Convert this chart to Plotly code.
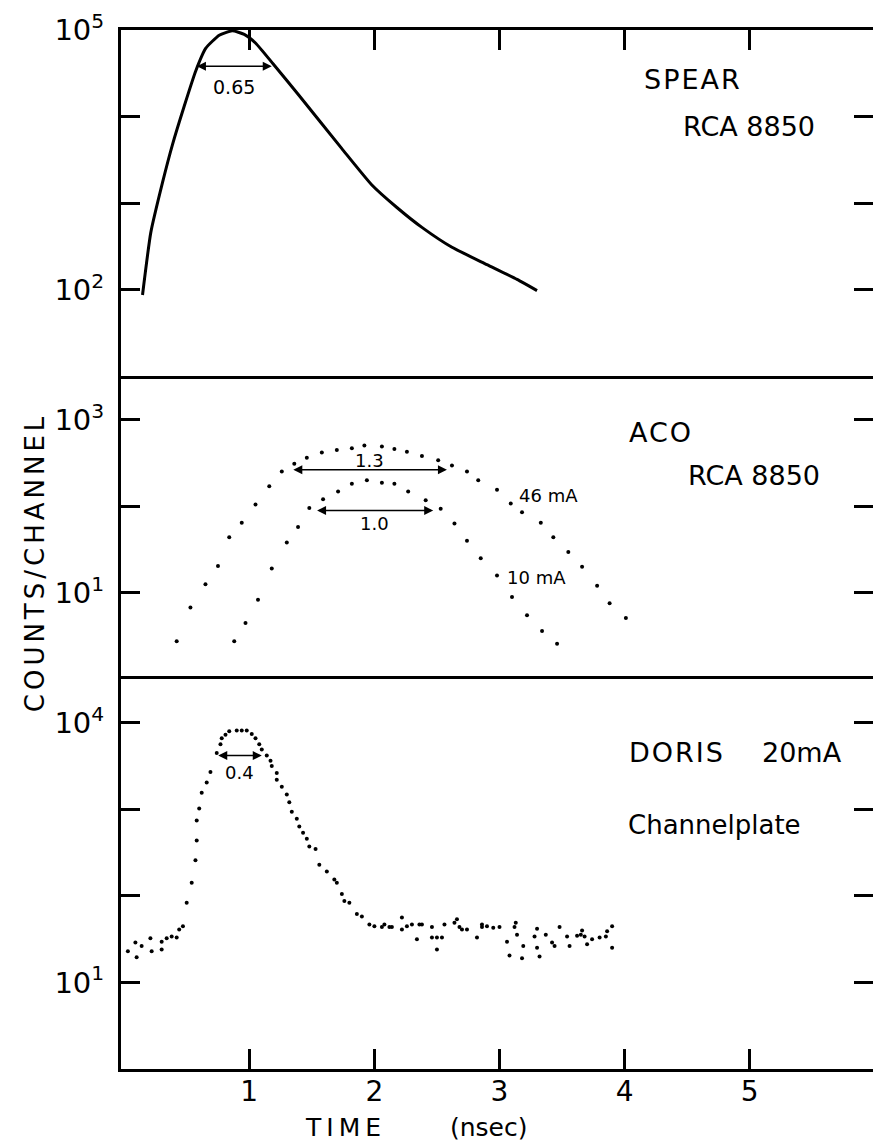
import numpy as np
import plotly.graph_objects as go

# ---------------- data ----------------
# SPEAR, RCA 8850 : solid curve, log10(counts/channel)
spear_time = [0.147, 0.213, 0.307, 0.387, 0.48, 0.573, 0.653, 0.76, 0.864, 0.96, 1.05, 1.19,
              1.40, 1.74, 1.98, 2.18, 2.38, 2.62, 2.90, 3.14, 3.30]
spear_log10 = [1.94, 2.66, 3.24, 3.68, 4.12, 4.53, 4.79, 4.94, 4.99, 4.95, 4.85, 4.61, 4.24,
               3.63, 3.21, 2.95, 2.72, 2.49, 2.29, 2.12, 1.99]

# ACO, RCA 8850 : two dotted series
aco46_time = [0.42, 0.53, 0.65, 0.75, 0.84, 0.94, 1.05, 1.16, 1.26, 1.36, 1.46, 1.58, 1.70,
              1.82, 1.92, 2.06, 2.16, 2.26, 2.38, 2.51, 2.62, 2.74, 2.83, 2.98, 3.09, 3.18,
              3.33, 3.43, 3.55, 3.66, 3.78, 3.88, 4.01]
aco46_log10 = [0.44, 0.83, 1.10, 1.31, 1.64, 1.81, 2.02, 2.23, 2.40, 2.49, 2.56, 2.62, 2.65,
               2.67, 2.70, 2.69, 2.66, 2.63, 2.58, 2.53, 2.47, 2.40, 2.30, 2.19, 2.03, 1.93,
               1.81, 1.64, 1.47, 1.30, 1.08, 0.88, 0.71]
aco10_time = [0.88, 0.97, 1.07, 1.18, 1.30, 1.39, 1.48, 1.59, 1.71, 1.82, 1.94, 2.06, 2.16,
              2.27, 2.41, 2.53, 2.64, 2.74, 2.85, 2.98, 3.10, 3.22, 3.34, 3.46]
aco10_log10 = [0.44, 0.65, 0.92, 1.28, 1.58, 1.76, 1.98, 2.08, 2.17, 2.26, 2.30, 2.27, 2.26,
               2.17, 2.07, 1.97, 1.80, 1.60, 1.40, 1.20, 0.95, 0.74, 0.56, 0.41]

# DORIS 20 mA, Channelplate : dotted series
doris_time = [0.03, 0.09, 0.10, 0.14, 0.21, 0.22, 0.30, 0.30, 0.34, 0.38, 0.42, 0.44, 0.47,
              0.50, 0.54, 0.57, 0.58, 0.58, 0.60, 0.62, 0.66, 0.69, 0.74, 0.77, 0.78, 0.81,
              0.84, 0.90, 0.94, 0.98, 1.02, 1.05, 1.08, 1.10, 1.14, 1.17, 1.18, 1.22, 1.22,
              1.26, 1.30, 1.32, 1.34, 1.38, 1.40, 1.43, 1.46, 1.48, 1.53, 1.56, 1.62, 1.68,
              1.70, 1.74, 1.76, 1.80, 1.86, 1.90, 1.96, 2.00, 2.06, 2.08, 2.12, 2.14, 2.22,
              2.22, 2.26, 2.30, 2.34, 2.38, 2.46, 2.46, 2.50, 2.54, 2.56, 2.64, 2.68, 2.74,
              2.82, 2.86, 2.90, 3.00, 3.06, 3.08, 3.12, 3.18, 3.19, 3.30, 3.30, 3.32, 3.42,
              3.44, 3.48, 3.54, 3.56, 3.62, 3.66, 3.70, 3.74, 3.80, 3.85, 3.86, 3.90, 3.90,
              2.36, 2.50, 2.66, 2.70, 2.86, 2.95, 3.13, 3.14, 3.28, 3.37, 3.65, 3.68]
doris_log10 = [1.36, 1.46, 1.29, 1.42, 1.51, 1.36, 1.38, 1.47, 1.51, 1.53, 1.52, 1.61, 1.65,
               1.92, 2.15, 2.41, 2.64, 2.87, 3.01, 3.19, 3.31, 3.43, 3.65, 3.75, 3.82, 3.86,
               3.90, 3.91, 3.91, 3.91, 3.87, 3.82, 3.75, 3.69, 3.62, 3.56, 3.50, 3.42, 3.34,
               3.26, 3.17, 3.08, 2.97, 2.89, 2.80, 2.73, 2.66, 2.57, 2.54, 2.36, 2.28, 2.19,
               2.15, 2.02, 1.94, 1.92, 1.79, 1.76, 1.67, 1.65, 1.64, 1.67, 1.64, 1.64, 1.75,
               1.61, 1.65, 1.67, 1.50, 1.67, 1.64, 1.52, 1.38, 1.52, 1.67, 1.69, 1.64, 1.61,
               1.52, 1.64, 1.65, 1.64, 1.47, 1.31, 1.64, 1.28, 1.42, 1.62, 1.40, 1.30, 1.46,
               1.42, 1.64, 1.53, 1.42, 1.54, 1.60, 1.44, 1.50, 1.52, 1.53, 1.59, 1.40, 1.65,
               1.67, 1.52, 1.73, 1.61, 1.67, 1.63, 1.69, 1.55, 1.53, 1.55, 1.55, 1.53]

# FWHM markers: (start time, end time, log10 level, label)
spear_fwhm = [0.57, 1.18, 4.58, "0.65"]
aco46_fwhm = [1.34, 2.58, 2.42, "1.3"]
aco10_fwhm = [1.53, 2.47, 1.95, "1.0"]
doris_fwhm = [0.74, 1.10, 3.62, "0.4"]

x_ticks = [1, 2, 3, 4, 5]
x_ticktext = ["1", "2", "3", "4", "5"]
spear_yticks = [1e2, 1e3, 1e4, 1e5]
spear_yticktext = ["10<sup>2</sup>", "", "", "10<sup>5</sup>"]
aco_yticks = [1e1, 1e2, 1e3]
aco_yticktext = ["10<sup>1</sup>", "", "10<sup>3</sup>"]
doris_yticks = [1e1, 1e2, 1e3, 1e4]
doris_yticktext = ["10<sup>1</sup>", "", "", "10<sup>4</sup>"]

# ---------------- figure ----------------
FONT = "DejaVu Sans"
BLACK = "#000000"


def ls(text, px):
    return f'<span style="letter-spacing:{px}px">{text}</span>'


fig = go.Figure()

fig.add_trace(go.Scatter(x=spear_time, y=np.power(10.0, spear_log10), mode="lines",
                         line=dict(color=BLACK, width=3, shape="spline", smoothing=0.5),
                         xaxis="x3", yaxis="y3", hoverinfo="skip", showlegend=False))
fig.add_trace(go.Scatter(x=aco46_time, y=np.power(10.0, aco46_log10), mode="markers",
                         marker=dict(color=BLACK, size=4), xaxis="x2", yaxis="y2",
                         showlegend=False))
fig.add_trace(go.Scatter(x=aco10_time, y=np.power(10.0, aco10_log10), mode="markers",
                         marker=dict(color=BLACK, size=4), xaxis="x2", yaxis="y2",
                         showlegend=False))
fig.add_trace(go.Scatter(x=doris_time, y=np.power(10.0, doris_log10), mode="markers",
                         marker=dict(color=BLACK, size=4), xaxis="x", yaxis="y",
                         showlegend=False))
# empty traces so the right-hand tick axes are drawn
for xa, ya in (("x", "y4"), ("x2", "y5"), ("x3", "y6")):
    fig.add_trace(go.Scatter(x=[None], y=[None], xaxis=xa, yaxis=ya, showlegend=False,
                             hoverinfo="skip"))

XR = [-0.025, 5.985]
common_x = dict(range=XR, showgrid=False, zeroline=False, linewidth=3, linecolor=BLACK,
                automargin=False)
common_y = dict(type="log", showgrid=False, zeroline=False, showline=True, linewidth=3,
                linecolor=BLACK, mirror=False, ticks="inside", ticklen=19, tickwidth=3,
                tickcolor=BLACK, automargin=False,
                tickfont=dict(size=29, color=BLACK, family=FONT), ticklabelstandoff=8)
right_y = dict(type="log", side="right", showgrid=False, zeroline=False, showline=False,
               ticks="inside", ticklen=19, tickwidth=3, tickcolor=BLACK,
               showticklabels=False, automargin=False)

d3 = 4.5 / 12
d2 = 8.0 / 12

fig.update_layout(
    width=873, height=1145,
    margin=dict(l=121, r=0, t=30, b=76, autoexpand=False),
    paper_bgcolor="white", plot_bgcolor="white",
    font=dict(family=FONT, color=BLACK),
    xaxis=dict(**common_x, anchor="y", domain=[0, 1], showline=True, mirror=True,
               ticks="inside", ticklen=20, tickwidth=3, tickcolor=BLACK, tickvals=x_ticks,
               ticktext=x_ticktext, tickfont=dict(size=28, color=BLACK, family=FONT),
               ticklabelstandoff=-5),
    xaxis2=dict(**common_x, anchor="y2", domain=[0, 1], matches="x", showline=False,
                ticks="", showticklabels=False),
    xaxis3=dict(**common_x, anchor="y3", domain=[0, 1], matches="x", side="top",
                showline=True, mirror=True, ticks="inside", ticklen=20, tickwidth=3,
                tickcolor=BLACK, tickvals=x_ticks, showticklabels=False),
    yaxis=dict(**common_y, anchor="x", domain=[0, d3], range=[0, 4.5],
               tickvals=doris_yticks, ticktext=doris_yticktext),
    yaxis2=dict(**common_y, anchor="x2", domain=[d3, d2], range=[0, 3.5],
                tickvals=aco_yticks, ticktext=aco_yticktext),
    yaxis3=dict(**common_y, anchor="x3", domain=[d2, 1], range=[1, 5],
                tickvals=spear_yticks, ticktext=spear_yticktext),
    yaxis4=dict(**right_y, anchor="x", overlaying="y", range=[0, 4.5], tickvals=doris_yticks),
    yaxis5=dict(**right_y, anchor="x2", overlaying="y2", range=[0, 3.5], tickvals=aco_yticks),
    yaxis6=dict(**right_y, anchor="x3", overlaying="y3", range=[1, 5], tickvals=spear_yticks),
)

ann = []


def fwhm(spec, xr, yr, label_dy, size=18):
    x0, x1, lev, label = spec
    ann.append(dict(x=x1, y=lev, ax=x0, ay=lev, xref=xr, yref=yr, axref=xr, ayref=yr,
                    text="", showarrow=True, arrowhead=2, startarrowhead=2,
                    arrowside="end+start", arrowsize=1.2, arrowwidth=1.5, arrowcolor=BLACK))
    ann.append(dict(x=(x0 + x1) / 2, y=lev + label_dy, xref=xr, yref=yr, text=label,
                    showarrow=False, font=dict(size=size, color=BLACK, family=FONT)))


fwhm(spear_fwhm, "x3", "y3", -0.24, size=19)
fwhm(aco46_fwhm, "x2", "y2", 0.11)
fwhm(aco10_fwhm, "x2", "y2", -0.15)
fwhm(doris_fwhm, "x", "y", -0.2, size=18)


def label(text, x, y, xr, yr, size, spacing=0, anchor="left"):
    ann.append(dict(x=x, y=y, xref=xr, yref=yr, text=ls(text, spacing) if spacing else text,
                    showarrow=False, xanchor=anchor, yanchor="middle",
                    font=dict(size=size, color=BLACK, family=FONT)))


label("SPEAR", 4.14, 4.43, "x3", "y3", 27, 2)
label("RCA 8850", 4.45, 3.89, "x3", "y3", 27, 0)
label("ACO", 4.02, 2.85, "x2", "y2", 27, 2)
label("RCA 8850", 4.49, 2.36, "x2", "y2", 27, 0)
label("46 mA", 3.14, 2.12, "x2", "y2", 18)
label("10 mA", 3.04, 1.18, "x2", "y2", 18)
label("DORIS", 4.02, 3.65, "x", "y", 27, 2)
label("20mA", 5.08, 3.65, "x", "y", 27, 0)
label("Channelplate", 4.01, 2.82, "x", "y", 26, 0)

# axis titles
ann.append(dict(x=1.77, y=-0.056, xref="x", yref="paper", text=ls("TIME", 5), showarrow=False,
                xanchor="center", yanchor="middle", font=dict(size=25, color=BLACK, family=FONT)))
ann.append(dict(x=2.92, y=-0.056, xref="x", yref="paper", text="(nsec)", showarrow=False,
                xanchor="center", yanchor="middle", font=dict(size=25, color=BLACK, family=FONT)))
ann.append(dict(x=-0.114, y=0.488, xref="paper", yref="paper", text=ls("COUNTS/CHANNEL", 4),
                textangle=-90, showarrow=False, xanchor="center", yanchor="middle",
                font=dict(size=26, color=BLACK, family=FONT)))

fig.update_layout(annotations=ann)

fig.write_html("out.html", config={"displayModeBar": False},
               post_script="document.body.style.margin='0';"
                           "document.body.style.overflow='hidden';")
